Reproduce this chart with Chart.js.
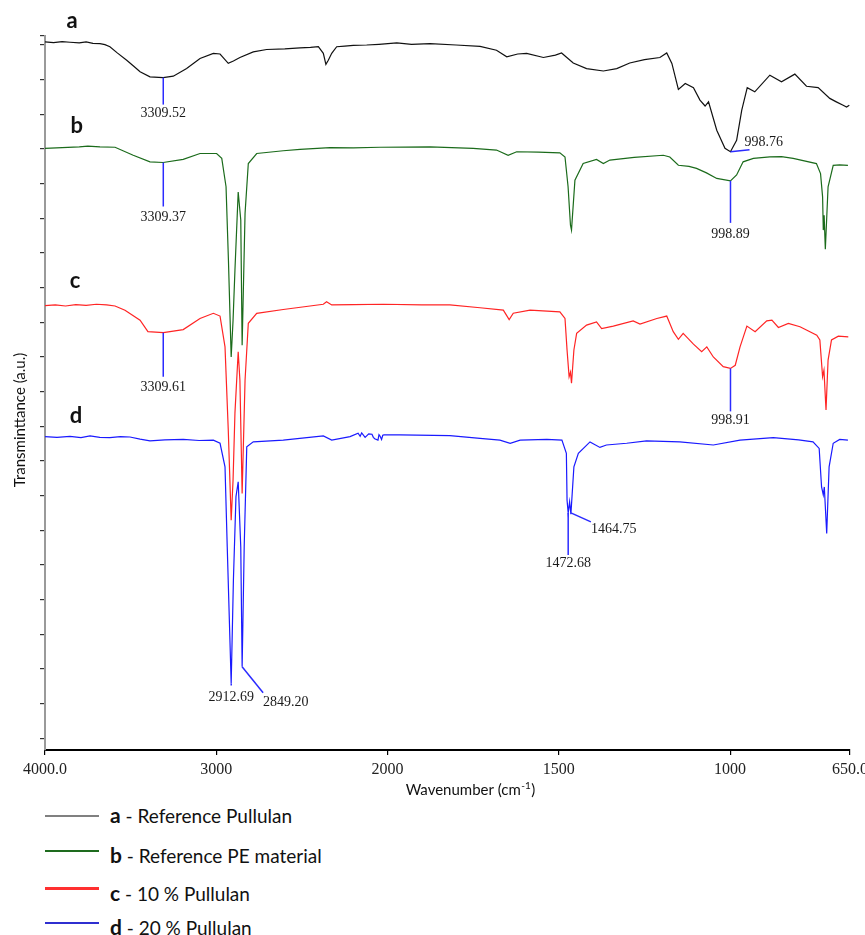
<!DOCTYPE html>
<html>
<head>
<meta charset="utf-8">
<script src="https://cdn.jsdelivr.net/npm/chart.js@4.4.1/dist/chart.umd.min.js"></script>
<style>
  html, body { margin: 0; padding: 0; background: #fff; }
  #wrap { position: relative; width: 865px; height: 935px; overflow: hidden; background: #fff; }
  #chart { position: absolute; left: 0; top: 0; }
  .leg-row { position: absolute; left: 110px; height: 26px; line-height: 26px; white-space: nowrap;
             font-family: Lato, "Open Sans", sans-serif; font-size: 19px; color: #111; }
  .leg-row b { font-size: 21px; font-weight: 700; }
  .leg-line { position: absolute; left: 45px; width: 54px; }
</style>
</head>
<body>
<div id="wrap">
  <canvas id="chart" width="865" height="800"></canvas>
  <div id="legend"></div>
</div>
<script>
// ---------------- DATA ----------------
const X_TICK_WAVENUMBERS = [4000, 3000, 2000, 1500, 1000, 650];
const X_TICK_LABELS = ['4000.0', '3000', '2000', '1500', '1000', '650.0'];
const Y_TICK_VALUES = [0.34, 1.34, 2.34, 3.34, 4.34, 5.34, 6.34, 7.34, 8.34, 9.34, 10.34,
                       11.34, 12.34, 13.34, 14.34, 15.34, 16.34, 17.34, 18.34, 19.34, 20.34, 20.6];

const SERIES_KEYS = ['a', 'b', 'c', 'd'];
const SERIES_NAMES = ['Reference Pullulan', 'Reference PE material', '10 % Pullulan', '20 % Pullulan'];

const WN_A = [4000, 3950, 3900, 3854, 3800, 3760, 3720, 3679, 3650, 3621, 3580, 3523, 3480, 3445, 3387, 3310,
  3251, 3173, 3095, 3017, 2978, 2930, 2900, 2862, 2784, 2706, 2600, 2511, 2450, 2404, 2375, 2360, 2346, 2326,
  2297, 2250, 2200, 2122, 2050, 1973, 1930, 1876, 1800, 1730, 1682, 1652, 1620, 1594, 1545, 1510, 1492, 1458,
  1419, 1370, 1331, 1293, 1250, 1205, 1185, 1170, 1151, 1131, 1107, 1088, 1073, 1063, 1039, 1015, 999, 981,
  966, 950, 928, 884, 850, 811, 777, 743, 709, 690, 670, 660, 652];
const VAL_A = [20.43, 20.41, 20.44, 20.42, 20.40, 20.43, 20.39, 20.38, 20.35, 20.29, 20.12, 19.90, 19.72, 19.57,
  19.42, 19.40, 19.44, 19.66, 19.95, 20.10, 20.08, 19.81, 19.88, 19.98, 20.14, 20.21, 20.23, 20.26, 20.27, 20.29,
  20.10, 19.78, 19.90, 20.10, 20.29, 20.31, 20.33, 20.34, 20.36, 20.40, 20.36, 20.38, 20.34, 20.30, 20.19, 20.00,
  20.08, 20.10, 19.98, 20.05, 20.11, 19.82, 19.66, 19.59, 19.66, 19.82, 19.92, 19.98, 20.11, 19.81, 19.06, 19.23,
  19.11, 18.75, 18.58, 18.70, 17.88, 17.36, 17.26, 17.59, 18.46, 19.11, 18.99, 19.47, 19.28, 19.50, 19.15, 19.11,
  18.80, 18.70, 18.60, 18.55, 18.60];

const WN_B = [4000, 3900, 3800, 3750, 3679, 3591, 3485, 3387, 3310, 3193, 3095, 2998, 2968, 2943, 2929, 2913,
  2902, 2891, 2872, 2857, 2849, 2832, 2813, 2764, 2609, 2511, 2336, 2200, 2044, 1876, 1750, 1682, 1648, 1623,
  1560, 1497, 1482, 1473, 1466, 1463, 1453, 1429, 1390, 1370, 1351, 1280, 1195, 1176, 1151, 1120, 1098, 1069,
  1039, 999, 981, 962, 932, 884, 850, 816, 748, 736, 730, 728, 725.5, 722, 714, 699, 680, 656];
const VAL_B = [17.36, 17.38, 17.40, 17.42, 17.40, 17.39, 17.16, 16.97, 16.95, 17.04, 17.21, 17.21, 17.07, 16.25,
  14.13, 11.34, 12.40, 13.84, 16.10, 15.29, 11.68, 15.48, 16.92, 17.21, 17.29, 17.33, 17.38, 17.37, 17.39, 17.40,
  17.36, 17.31, 17.16, 17.26, 17.25, 17.23, 17.11, 16.25, 15.14, 15.00, 16.44, 16.92, 17.04, 16.92, 17.02, 17.10,
  17.16, 17.11, 16.87, 16.84, 16.78, 16.65, 16.49, 16.42, 16.59, 16.97, 17.07, 17.11, 17.12, 17.07, 16.92, 16.63,
  15.96, 15.00, 15.43, 14.45, 16.25, 16.87, 16.88, 16.87];

const WN_C = [4000, 3940, 3880, 3820, 3760, 3700, 3640, 3591, 3533, 3445, 3399, 3309, 3193, 3095, 3017, 2978,
  2949, 2930, 2913, 2902, 2891, 2872, 2862, 2849, 2832, 2813, 2764, 2609, 2375, 2356, 2326, 2200, 2025, 1900,
  1818, 1730, 1662, 1645, 1633, 1584, 1497, 1482, 1476, 1470, 1466, 1463, 1456, 1448, 1419, 1390, 1375, 1341,
  1283, 1263, 1214, 1185, 1166, 1151, 1137, 1107, 1083, 1068, 1049, 1020, 999, 985, 971, 951, 927, 893, 878,
  859, 830, 796, 747, 738, 730, 726, 720, 714, 704, 684, 655];
const VAL_C = [12.82, 12.84, 12.81, 12.85, 12.83, 12.86, 12.84, 12.81, 12.69, 12.40, 12.07, 12.04, 12.13, 12.45,
  12.60, 12.52, 11.63, 9.23, 6.63, 7.79, 9.72, 11.49, 10.67, 7.40, 10.67, 12.31, 12.60, 12.71, 12.86, 12.93,
  12.84, 12.85, 12.86, 12.84, 12.84, 12.76, 12.69, 12.42, 12.60, 12.69, 12.64, 12.45, 11.54, 10.77, 10.90, 10.58,
  11.54, 12.02, 12.26, 12.35, 12.16, 12.23, 12.38, 12.29, 12.45, 12.52, 12.07, 11.85, 12.02, 11.71, 11.49, 11.63,
  11.34, 11.06, 11.01, 11.10, 11.63, 12.23, 12.07, 12.38, 12.40, 12.19, 12.31, 12.21, 11.97, 11.83, 10.77, 10.96,
  9.81, 11.25, 11.83, 11.94, 11.92];

const WN_D = [4000, 3930, 3854, 3790, 3737, 3680, 3621, 3560, 3504, 3445, 3387, 3300, 3193, 3100, 3017, 2978,
  2949, 2936, 2913, 2900, 2885, 2872, 2857, 2849, 2837, 2822, 2784, 2609, 2375, 2326, 2219, 2172, 2160, 2151,
  2131, 2110, 2091, 2083, 2075, 2056, 2050, 2044, 2035, 2028, 2021, 1964, 1818, 1730, 1672, 1642, 1613, 1535,
  1491, 1478, 1476, 1472.7, 1468.5, 1464.8, 1456, 1443, 1409, 1380, 1361, 1302, 1244, 1147, 1049, 971, 874, 800,
  758, 740, 733, 728, 725, 718, 711, 699, 680, 656];
const VAL_D = [9.04, 9.02, 9.05, 9.01, 9.06, 9.02, 9.01, 9.04, 9.03, 8.97, 8.92, 8.95, 8.96, 8.93, 8.94, 8.85,
  8.17, 5.86, 1.92, 4.90, 7.31, 7.74, 5.86, 2.40, 5.86, 8.75, 8.89, 8.94, 9.06, 8.94, 9.04, 9.14, 9.05, 9.15,
  9.02, 9.12, 9.11, 9.02, 8.98, 8.94, 9.10, 9.06, 8.96, 9.08, 9.09, 9.09, 9.07, 8.99, 8.94, 8.85, 8.94, 8.96,
  8.94, 8.56, 7.21, 6.84, 7.16, 6.80, 8.17, 8.56, 8.89, 8.73, 8.80, 8.85, 8.92, 8.89, 8.80, 8.94, 9.01, 8.95,
  8.89, 8.70, 7.59, 7.36, 7.59, 6.25, 8.17, 8.85, 8.96, 8.94];

const PEAK_SERIES = ['a', 'a', 'b', 'b', 'c', 'c', 'd', 'd', 'd', 'd'];
const PEAK_WAVENUMBERS = [3309.52, 998.76, 3309.37, 998.89, 3309.61, 998.91, 2912.69, 2849.20, 1472.68, 1464.75];
const PEAK_VALUES = [19.40, 17.26, 16.95, 16.42, 12.04, 11.01, 1.92, 2.40, 6.84, 6.84];
const PEAK_LABELS = ['3309.52', '998.76', '3309.37', '998.89', '3309.61', '998.91', '2912.69', '2849.20', '1472.68', '1464.75'];

// ---------------- STYLE ----------------
const SERIF = '"Liberation Serif", "Times New Roman", serif';
const SANS = 'Lato, "Open Sans", sans-serif';
const SERIES_COLORS = ['#111111', '#1b6b1b', '#ff2424', '#1a1aff'];
const LEGEND_COLORS = ['#808080', '#1e6b1e', '#ff3030', '#2f2fd0'];
const LEGEND_WIDTHS = [1.5, 1.5, 3, 1.5];
const LEGEND_TEXT_Y = [815, 855, 893, 927];
const LEGEND_LINE_Y = [816, 851, 888, 923];
const LETTER_OFFSETS = [[27, -13.4], [31.7, -15.3], [30, -17.7], [31, -13.4]];
const PEAK_STYLE = [
  [0, 27, 0, 36, 'center'],
  [19, -2, 14, -9, 'left'],
  [0, 44, 0, 55, 'center'],
  [0, 42, 0, 53, 'center'],
  [0, 44, 0, 55, 'center'],
  [0, 43, 0, 52, 'center'],
  [0, 2, 0, 13.5, 'center'],
  [21, 26, 21, 36, 'left'],
  [0, 42, 0, 50, 'center'],
  [20, 9, 20, 16.5, 'left']
];
const BREAK_WN = 2000;
const X_MAX = 4000, X_MIN = 650;

Chart.defaults.font.family = SERIF;
Chart.defaults.font.size = 16;
Chart.defaults.color = '#222';

// ---------------- SCALE: FT-IR axis with 2x expansion below 2000 cm-1 ----------------
class SplitWavenumberScale extends Chart.LinearScale {
  unitOf(w) {
    return w >= BREAK_WN ? (this.max - w) / 1000 : (this.max - BREAK_WN) / 1000 + (BREAK_WN - w) / 500;
  }
  getPixelForValue(v) {
    if (v === null || v === undefined || isNaN(v)) return NaN;
    return this.getPixelForDecimal(this.unitOf(v) / this.unitOf(this.min));
  }
  getValueForPixel(p) {
    const u = this.getDecimalForPixel(p) * this.unitOf(this.min);
    const ub = this.unitOf(BREAK_WN);
    return u <= ub ? this.max - u * 1000 : BREAK_WN - (u - ub) * 500;
  }
}
SplitWavenumberScale.id = 'splitWavenumber';
SplitWavenumberScale.defaults = Chart.LinearScale.defaults;
Chart.register(SplitWavenumberScale);

const SERIES = [
  { key: 'a', wn: WN_A, val: VAL_A },
  { key: 'b', wn: WN_B, val: VAL_B },
  { key: 'c', wn: WN_C, val: VAL_C },
  { key: 'd', wn: WN_D, val: VAL_D }
];

const annotationPlugin = {
  id: 'spectrumAnnotations',
  afterDatasetsDraw(chart) {
    const ctx = chart.ctx, xs = chart.scales.x, ys = chart.scales.y;
    ctx.save();
    ctx.font = 'bold 22px ' + SANS;
    ctx.fillStyle = '#111';
    ctx.textAlign = 'center';
    ctx.textBaseline = 'alphabetic';
    SERIES.forEach((s, i) => {
      ctx.fillText(s.key, xs.getPixelForValue(s.wn[0]) + LETTER_OFFSETS[i][0],
                          ys.getPixelForValue(s.val[0]) + LETTER_OFFSETS[i][1]);
    });
    ctx.font = '14px ' + SERIF;
    ctx.textBaseline = 'middle';
    PEAK_LABELS.forEach((label, i) => {
      const px = xs.getPixelForValue(PEAK_WAVENUMBERS[i]);
      const py = ys.getPixelForValue(PEAK_VALUES[i]);
      const st = PEAK_STYLE[i];
      ctx.strokeStyle = '#2b2bff';
      ctx.lineWidth = 1.5;
      ctx.beginPath();
      ctx.moveTo(px, py);
      ctx.lineTo(px + st[0], py + st[1]);
      ctx.stroke();
      ctx.fillStyle = '#1a1a1a';
      ctx.textAlign = st[4];
      ctx.fillText(label, px + st[2], py + st[3]);
    });
    ctx.restore();
  },
  afterDraw(chart) {
    const ctx = chart.ctx;
    ctx.save();
    ctx.fillStyle = '#111';
    ctx.translate(20, 420);
    ctx.rotate(-Math.PI / 2);
    ctx.font = '15px ' + SANS;
    ctx.textAlign = 'center';
    ctx.textBaseline = 'middle';
    ctx.fillText('Transminttance (a.u.)', 0, 0);
    ctx.restore();
    ctx.save();
    ctx.fillStyle = '#111';
    ctx.textBaseline = 'alphabetic';
    ctx.textAlign = 'left';
    const main = 'Wavenumber (cm', sup = '-1', tail = ')';
    ctx.font = '15px ' + SANS;
    const w1 = ctx.measureText(main).width, w3 = ctx.measureText(tail).width;
    ctx.font = '10px ' + SANS;
    const w2 = ctx.measureText(sup).width;
    const x0 = 470 - (w1 + w2 + w3) / 2;
    const base = 795;
    ctx.font = '15px ' + SANS;
    ctx.fillText(main, x0, base);
    ctx.font = '10px ' + SANS;
    ctx.fillText(sup, x0 + w1 + 0.5, base - 6);
    ctx.font = '15px ' + SANS;
    ctx.fillText(tail, x0 + w1 + w2 + 1, base);
    ctx.restore();
  }
};

new Chart(document.getElementById('chart'), {
  type: 'scatter',
  data: {
    datasets: SERIES.map((s, i) => ({
      label: SERIES_KEYS[i] + ' - ' + SERIES_NAMES[i],
      data: s.wn.map((w, j) => ({ x: w, y: s.val[j] })),
      showLine: true,
      borderColor: SERIES_COLORS[i],
      backgroundColor: SERIES_COLORS[i],
      borderWidth: 1.2,
      pointRadius: 0,
      tension: 0
    }))
  },
  options: {
    responsive: false,
    animation: false,
    events: [],
    layout: { padding: { top: 36, right: 15, left: 0, bottom: 0 } },
    plugins: { legend: { display: false }, tooltip: { enabled: false } },
    scales: {
      x: {
        type: 'splitWavenumber',
        min: X_MIN, max: X_MAX,
        afterBuildTicks: (s) => { s.ticks = X_TICK_WAVENUMBERS.map(v => ({ value: v })); },
        afterFit: (s) => { s.height = 50; s.paddingLeft = 0; s.paddingRight = 0; },
        ticks: {
          autoSkip: false, maxRotation: 0, minRotation: 0, padding: 5, color: '#222',
          font: { family: SERIF, size: 16 },
          callback: (v, i) => X_TICK_LABELS[i]
        },
        grid: { drawOnChartArea: false, drawTicks: true, tickLength: 5, color: '#000', lineWidth: 1.2 },
        border: { display: true, color: '#000', width: 2 }
      },
      y: {
        type: 'linear', min: 0, max: 20.6,
        afterBuildTicks: (s) => { s.ticks = Y_TICK_VALUES.map(v => ({ value: v })); },
        afterFit: (s) => { s.width = 45; s.paddingTop = 0; s.paddingBottom = 0; },
        ticks: { display: false },
        grid: { drawOnChartArea: false, drawTicks: true, tickLength: 5, color: '#333', lineWidth: 1.2 },
        border: { display: true, color: '#9a9a9a', width: 2 }
      }
    }
  },
  plugins: [annotationPlugin]
});

// ---------------- LEGEND (HTML) ----------------
const legend = document.getElementById('legend');
SERIES_KEYS.forEach((k, i) => {
  const line = document.createElement('div');
  line.className = 'leg-line';
  line.style.top = (LEGEND_LINE_Y[i] - LEGEND_WIDTHS[i] / 2) + 'px';
  line.style.height = LEGEND_WIDTHS[i] + 'px';
  line.style.background = LEGEND_COLORS[i];
  legend.appendChild(line);
  const row = document.createElement('div');
  row.className = 'leg-row';
  row.style.top = (LEGEND_TEXT_Y[i] - 13) + 'px';
  const b = document.createElement('b');
  b.textContent = k;
  row.appendChild(b);
  row.appendChild(document.createTextNode(' - ' + SERIES_NAMES[i]));
  legend.appendChild(row);
});
</script>
</body>
</html>
